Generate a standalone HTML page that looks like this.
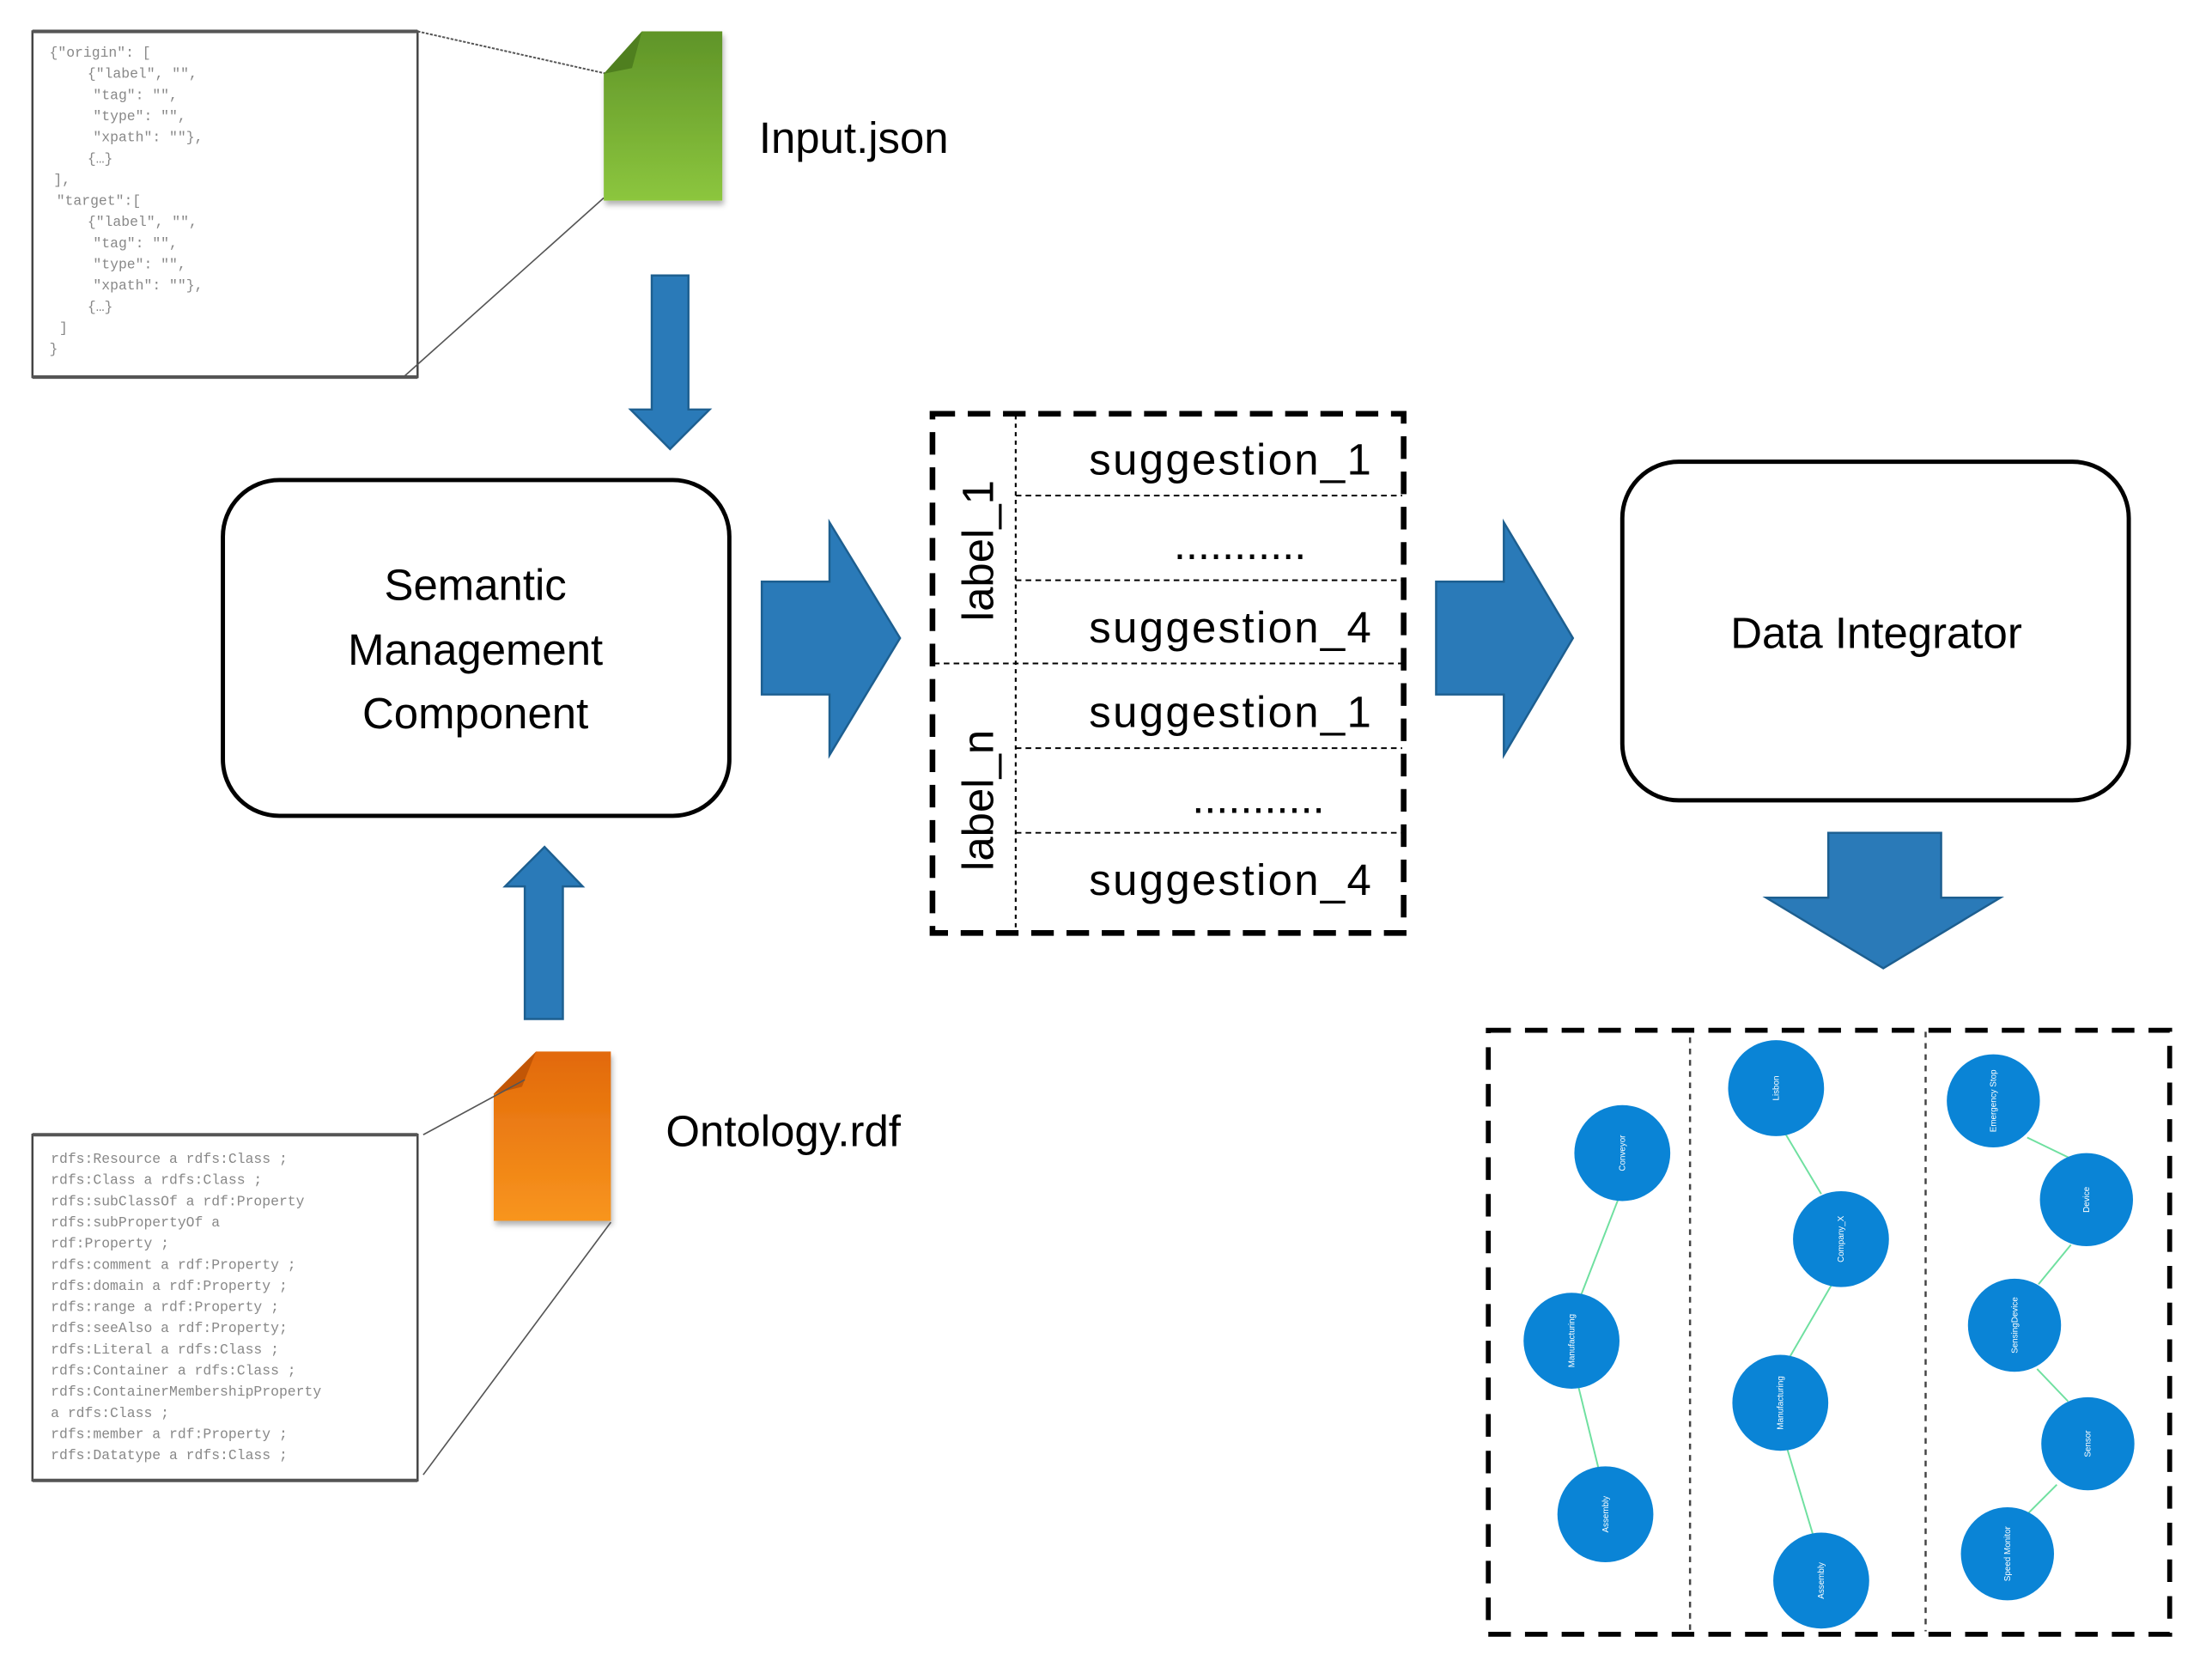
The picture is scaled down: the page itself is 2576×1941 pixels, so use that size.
<!DOCTYPE html>
<html><head><meta charset="utf-8"><style>
html,body{margin:0;padding:0;background:#fff;}
svg{display:block;}
text{font-family:"Liberation Sans",sans-serif;}
.mono text{font-family:"Liberation Mono",monospace;fill:#888;}
.mono{font-size:10px;}
.big{font-size:31px;fill:#000;}
.nd text{font-size:6px;fill:#fff;}
</style></head><body>
<svg width="2576" height="1941" viewBox="0 0 1568 1181" xmlns="http://www.w3.org/2000/svg">
<defs>
<linearGradient id="gg" x1="0" y1="0" x2="0" y2="1"><stop offset="0" stop-color="#5f9428"/><stop offset="1" stop-color="#8cc63e"/></linearGradient>
<linearGradient id="og" x1="0" y1="0" x2="0" y2="1"><stop offset="0" stop-color="#e2690a"/><stop offset="1" stop-color="#f8951e"/></linearGradient>
<filter id="sh" x="-20%" y="-20%" width="140%" height="140%"><feDropShadow dx="1" dy="3" stdDeviation="2" flood-color="#000" flood-opacity="0.3"/></filter>
</defs>

<rect x="23" y="22" width="273" height="245" fill="#fff" stroke="#444" stroke-width="1.5"/>
<line x1="23" y1="22" x2="296" y2="22" stroke="#555" stroke-width="2.5"/>
<line x1="23" y1="267" x2="296" y2="267" stroke="#555" stroke-width="2.5"/>
<g class="mono">
<text x="35" y="40">{"origin": [</text>
<text x="62" y="55">{"label", "",</text>
<text x="66" y="70">"tag": "",</text>
<text x="66" y="85">"type": "",</text>
<text x="66" y="100">"xpath": ""},</text>
<text x="62" y="115">{…}</text>
<text x="38" y="130">],</text>
<text x="40" y="145">"target":[</text>
<text x="62" y="160">{"label", "",</text>
<text x="66" y="175">"tag": "",</text>
<text x="66" y="190">"type": "",</text>
<text x="66" y="205">"xpath": ""},</text>
<text x="62" y="220">{…}</text>
<text x="42" y="235">]</text>
<text x="35" y="250">}</text>
</g>
<line x1="296" y1="22" x2="430" y2="52" stroke="#555" stroke-width="1.2" stroke-dasharray="2,1"/>
<line x1="428" y1="140" x2="286" y2="267" stroke="#555" stroke-width="1"/>

<path d="M455,22 L512,22 L512,142 L428,142 L428,52 Z" fill="url(#gg)" filter="url(#sh)"/>
<path d="M455,22 L428,52 L448,48 Z" fill="#4f7f1f"/>
<text x="538" y="108" class="big" font-size="32">Input.json</text>

<path d="M462,195 L488,195 L488,290 L503,290 L475,318 L447,290 L462,290 Z" fill="#2a7ab8" stroke="#1d5f90" stroke-width="1.5"/>

<rect x="158" y="340" width="359" height="238" rx="40" fill="#fff" stroke="#000" stroke-width="3"/>
<text x="337" y="425" class="big" text-anchor="middle">Semantic</text>
<text x="337" y="471" class="big" text-anchor="middle">Management</text>
<text x="337" y="516" class="big" text-anchor="middle">Component</text>

<path d="M372,722 L399,722 L399,628 L413,628 L386,600 L358,628 L372,628 Z" fill="#2a7ab8" stroke="#1d5f90" stroke-width="1.5"/>

<path d="M380,745 L433,745 L433,865 L350,865 L350,775 Z" fill="url(#og)" filter="url(#sh)"/>
<path d="M380,745 L350,775 L370,770 Z" fill="#c25606"/>
<text x="472" y="812" class="big" font-size="32">Ontology.rdf</text>

<rect x="23" y="804" width="273" height="245" fill="#fff" stroke="#444" stroke-width="1.5"/>
<line x1="23" y1="804" x2="296" y2="804" stroke="#555" stroke-width="2.5"/>
<line x1="23" y1="1049" x2="296" y2="1049" stroke="#555" stroke-width="2.5"/>
<g class="mono" font-size="10.5">
<text x="36" y="824">rdfs:Resource a rdfs:Class ;</text>
<text x="36" y="839">rdfs:Class a rdfs:Class ;</text>
<text x="36" y="854">rdfs:subClassOf a rdf:Property</text>
<text x="36" y="869">rdfs:subPropertyOf a</text>
<text x="36" y="884">rdf:Property ;</text>
<text x="36" y="899">rdfs:comment a rdf:Property ;</text>
<text x="36" y="914">rdfs:domain a rdf:Property ;</text>
<text x="36" y="929">rdfs:range a rdf:Property ;</text>
<text x="36" y="944">rdfs:seeAlso a rdf:Property;</text>
<text x="36" y="959">rdfs:Literal a rdfs:Class ;</text>
<text x="36" y="974">rdfs:Container a rdfs:Class ;</text>
<text x="36" y="989">rdfs:ContainerMembershipProperty</text>
<text x="36" y="1004">a rdfs:Class ;</text>
<text x="36" y="1019">rdfs:member a rdf:Property ;</text>
<text x="36" y="1034">rdfs:Datatype a rdfs:Class ;</text>
</g>
<line x1="300" y1="804" x2="372" y2="765" stroke="#555" stroke-width="1"/>
<line x1="300" y1="1045" x2="433" y2="866" stroke="#555" stroke-width="1"/>

<path d="M540,412 L588,412 L588,370 L638,452 L588,535 L588,492 L540,492 Z" fill="#2a7ab8" stroke="#1d5f90" stroke-width="1.5"/>

<g fill="none" stroke="#000">
<line x1="720" y1="294" x2="720" y2="660" stroke-width="1.3" stroke-dasharray="3,3"/>
<line x1="720" y1="351" x2="994" y2="351" stroke-width="1.2" stroke-dasharray="4,3"/>
<line x1="720" y1="411" x2="994" y2="411" stroke-width="1.2" stroke-dasharray="4,3"/>
<line x1="662" y1="470" x2="994" y2="470" stroke-width="1.2" stroke-dasharray="4,3"/>
<line x1="720" y1="530" x2="994" y2="530" stroke-width="1.2" stroke-dasharray="4,3"/>
<line x1="720" y1="590" x2="994" y2="590" stroke-width="1.2" stroke-dasharray="4,3"/>
<rect x="661" y="293" width="334" height="368" stroke-width="4" stroke-dasharray="16,9"/>
</g>
<text x="772" y="336" class="big" textLength="200">suggestion_1</text>
<text x="832" y="396" class="big" textLength="94">...........</text>
<text x="772" y="455" class="big" textLength="200">suggestion_4</text>
<text x="772" y="515" class="big" textLength="200">suggestion_1</text>
<text x="845" y="576" class="big" textLength="94">...........</text>
<text x="772" y="634" class="big" textLength="200">suggestion_4</text>
<text transform="translate(704,390) rotate(-90)" class="big" text-anchor="middle">label_1</text>
<text transform="translate(704,567) rotate(-90)" class="big" text-anchor="middle">label_n</text>

<path d="M1018,412 L1066,412 L1066,370 L1115,452 L1066,535 L1066,492 L1018,492 Z" fill="#2a7ab8" stroke="#1d5f90" stroke-width="1.5"/>

<rect x="1150" y="327" width="359" height="240" rx="40" fill="#fff" stroke="#000" stroke-width="3"/>
<text x="1330" y="459" class="big" text-anchor="middle">Data Integrator</text>

<path d="M1296,590 L1376,590 L1376,636 L1418,636 L1335,686 L1252,636 L1296,636 Z" fill="#2a7ab8" stroke="#1d5f90" stroke-width="1.5"/>

<g fill="none" stroke="#000">
<line x1="1198" y1="735" x2="1198" y2="1156" stroke="#444" stroke-width="1.5" stroke-dasharray="4,4"/>
<line x1="1365" y1="731" x2="1365" y2="1156" stroke="#444" stroke-width="1.5" stroke-dasharray="4,4"/>
<rect x="1055" y="730" width="483" height="428" stroke-width="3.5" stroke-dasharray="16,10"/>
</g>
<g stroke="#6fe0a0" stroke-width="1.2">
<line x1="1147" y1="850" x2="1121" y2="917"/>
<line x1="1119" y1="983" x2="1133" y2="1040"/>
<line x1="1266" y1="804" x2="1291" y2="846"/>
<line x1="1298" y1="911" x2="1269" y2="961"/>
<line x1="1267" y1="1027" x2="1285" y2="1087"/>
<line x1="1466" y1="820" x2="1437" y2="806"/>
<line x1="1445" y1="910" x2="1468" y2="882"/>
<line x1="1444" y1="970" x2="1466" y2="993"/>
<line x1="1458" y1="1052" x2="1438" y2="1072"/>
</g>
<g fill="#0a84d6">
<ellipse cx="1150" cy="817" rx="34" ry="34"/>
<ellipse cx="1114" cy="950" rx="34" ry="34"/>
<ellipse cx="1138" cy="1073" rx="34" ry="34"/>
<ellipse cx="1259" cy="771" rx="34" ry="34"/>
<ellipse cx="1305" cy="878" rx="34" ry="34"/>
<ellipse cx="1262" cy="994" rx="34" ry="34"/>
<ellipse cx="1291" cy="1120" rx="34" ry="34"/>
<ellipse cx="1413" cy="780" rx="33" ry="33"/>
<ellipse cx="1479" cy="850" rx="33" ry="33"/>
<ellipse cx="1428" cy="939" rx="33" ry="33"/>
<ellipse cx="1480" cy="1023" rx="33" ry="33"/>
<ellipse cx="1423" cy="1101" rx="33" ry="33"/>
</g>
<g class="nd" text-anchor="middle">
<text transform="translate(1152,817) rotate(-90)">Conveyor</text>
<text transform="translate(1116,950) rotate(-90)">Manufacturing</text>
<text transform="translate(1140,1073) rotate(-90)">Assembly</text>
<text transform="translate(1261,771) rotate(-90)">Lisbon</text>
<text transform="translate(1307,878) rotate(-90)">Company_X</text>
<text transform="translate(1264,994) rotate(-90)">Manufacturing</text>
<text transform="translate(1293,1120) rotate(-90)">Assembly</text>
<text transform="translate(1415,780) rotate(-90)">Emergency Stop</text>
<text transform="translate(1481,850) rotate(-90)">Device</text>
<text transform="translate(1430,939) rotate(-90)">SensingDevice</text>
<text transform="translate(1482,1023) rotate(-90)">Sensor</text>
<text transform="translate(1425,1101) rotate(-90)">Speed Monitor</text>
</g>
</svg>
</body></html>
